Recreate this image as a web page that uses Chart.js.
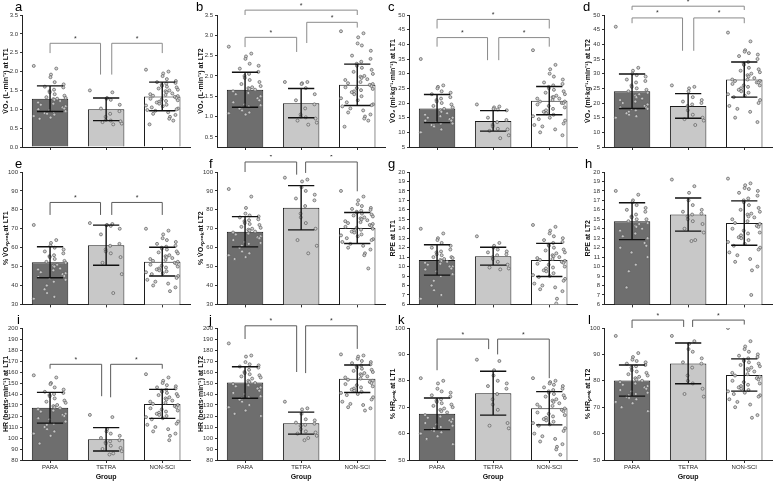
<!DOCTYPE html>
<html>
<head>
<meta charset="utf-8">
<script src="https://cdn.jsdelivr.net/npm/chart.js@4.4.1/dist/chart.umd.min.js"></script>
<style>
  body { margin: 0; background: #fff; overflow: hidden; }
  #wrap { position: relative; width: 776px; height: 481px; overflow: hidden; }
  canvas { position: absolute; }
</style>
</head>
<body>
<div id="wrap"></div>
<script>
const groups = ['PARA', 'TETRA', 'NON-SCI'];

// a: VO2 (L/min) at LT1
const aMean = [1.28, 1.00, 1.34];
const aSd = [0.34, 0.30, 0.38];
const aPara = [2.15, 2.08, 1.92, 1.85, 1.72, 1.66, 1.6, 1.58, 1.52, 1.48, 1.45, 1.4, 1.36, 1.32, 1.3, 1.28, 1.27, 1.25, 1.22, 1.18, 1.15, 1.12, 1.08, 1.05, 1.02, 1.0, 0.98, 0.95, 0.93, 0.92, 0.9, 0.88, 0.86, 0.82, 0.78, 0.75];
const aTetra = [1.5, 1.45, 1.3, 1.28, 1.25, 1.12, 1.02, 0.95, 0.88, 0.8, 0.72, 0.7, 0.68, 0.66, 0.62, 0.6];
const aNon = [2.05, 2.0, 1.95, 1.88, 1.8, 1.75, 1.72, 1.7, 1.68, 1.65, 1.62, 1.6, 1.58, 1.55, 1.52, 1.5, 1.48, 1.45, 1.42, 1.4, 1.38, 1.36, 1.35, 1.33, 1.3, 1.28, 1.26, 1.24, 1.22, 1.2, 1.18, 1.15, 1.12, 1.1, 1.08, 1.05, 1.02, 1.0, 0.98, 0.96, 0.92, 0.88, 0.85, 0.8, 0.75, 0.7, 0.6];

// b: VO2 (L/min) at LT2
const bMean = [1.66, 1.33, 1.78];
const bSd = [0.43, 0.36, 0.51];
const bPara = [2.72, 2.55, 2.48, 2.42, 2.3, 2.25, 2.18, 2.1, 2.05, 2.0, 1.95, 1.9, 1.85, 1.8, 1.75, 1.72, 1.7, 1.68, 1.66, 1.62, 1.58, 1.55, 1.5, 1.45, 1.4, 1.35, 1.3, 1.28, 1.25, 1.22, 1.2, 1.15, 1.1, 1.08, 1.05];
const bTetra = [1.85, 1.85, 1.82, 1.8, 1.7, 1.55, 1.4, 1.3, 1.2, 1.05, 1.0, 0.98, 0.95, 0.9, 0.85, 0.8];
const bNon = [3.1, 3.05, 2.95, 2.8, 2.75, 2.62, 2.5, 2.42, 2.35, 2.3, 2.25, 2.2, 2.15, 2.1, 2.05, 2.0, 1.98, 1.95, 1.92, 1.9, 1.85, 1.82, 1.8, 1.78, 1.75, 1.72, 1.7, 1.68, 1.65, 1.62, 1.6, 1.55, 1.5, 1.45, 1.4, 1.35, 1.3, 1.28, 1.25, 1.2, 1.15, 1.1, 1.05, 1.0, 0.95, 0.9, 0.75];

// c: VO2 (ml/kg/min) at LT1
const cMean = [18.1, 13.9, 20.8];
const cSd = [4.8, 3.5, 4.8];
const cPara = [35, 26, 25.5, 25, 24, 23.5, 23, 22, 21.5, 21, 20.5, 20, 19.5, 19, 18.5, 18, 17.5, 17, 16.5, 16, 15.5, 15, 15, 14.5, 14, 14, 13.5, 13, 13, 12.5, 12.5, 12, 11, 10];
const cTetra = [19.5, 18.8, 18.5, 18, 17.8, 17.5, 15, 14.2, 13.5, 12.5, 12, 11.2, 11, 10.5, 9, 8];
const cNon = [38, 33, 31.5, 30, 29, 28, 27, 26.5, 26, 25.5, 25, 24.5, 24, 23.5, 23, 22.5, 22, 22, 21.5, 21.5, 21, 20.5, 20.5, 20, 20, 19.5, 19, 18.5, 18, 17.5, 17, 16.5, 16, 15.5, 15, 14.5, 14, 13, 12.5, 12, 11, 10, 9];

// d: VO2 (ml/kg/min) at LT2
const dMean = [24.0, 19.0, 28.0];
const dSd = [5.9, 4.2, 6.0];
const dPara = [46, 32, 31, 30, 29.5, 29, 28, 27.5, 27, 26, 25.5, 25, 24.5, 24, 23.5, 23, 22.5, 22, 21.5, 21, 20.5, 20, 19.5, 19, 18.5, 18.5, 18, 18, 17.5, 17, 16.5, 16, 15.5, 15];
const dTetra = [26, 25.5, 25, 24, 22, 21, 20.5, 20, 19.5, 19, 17.5, 16, 15, 14.5, 14, 12.5];
const dNon = [44, 41, 38, 37.5, 37, 36.5, 36, 35, 34, 33.5, 33, 32, 31.5, 31, 30.5, 30, 29.5, 29, 28.5, 28, 28, 27.5, 27.5, 27, 27, 26.5, 26, 26, 25.5, 25, 24.5, 24, 23.5, 23, 22.5, 22, 21, 20, 19, 18, 17, 15, 13.5];

// e: %VO2peak at LT1
const eMean = [52.3, 61.3, 52.6];
const eSd = [8.2, 10.6, 7.6];
const ePara = [72, 64, 62.5, 61, 60, 59, 58, 57, 56, 55.5, 55, 54, 53, 52.5, 52, 51, 50.5, 50, 49, 48.5, 48, 47, 46.5, 46, 45, 44.5, 44, 43, 42, 40, 38, 36, 34, 33];
const eTetra = [73, 72.5, 72, 71.8, 71.5, 70, 67, 62, 61, 59, 58, 57, 55, 52, 46, 36];
const eNon = [70, 69, 67, 65, 64, 63, 62, 61, 60.5, 60, 59.5, 59, 58, 57.5, 57, 56, 55.5, 55, 54.5, 54, 53.5, 53, 52.5, 52, 51.5, 51, 50.5, 50, 49.5, 49, 48.5, 48, 47.5, 47, 46.5, 46, 45, 44, 43, 42, 41, 40, 39, 37];

// f: %VO2peak at LT2
const fMean = [68.4, 81.1, 70.4];
const fSd = [8.0, 11.7, 8.2];
const fPara = [91, 87, 81, 78, 77, 76.5, 76, 75, 74.5, 74, 73, 72.5, 72, 71, 70.5, 70, 69.5, 69, 68.5, 68, 67.5, 67, 66, 65.5, 65, 64, 63, 62.5, 62, 61, 60, 58, 57, 56, 55, 54];
const fTetra = [97, 96, 95, 92, 90, 88, 86, 85, 82, 78, 76, 73, 70, 64, 61, 57];
const fNon = [90, 87, 85, 83, 82, 81, 80.5, 80, 79.5, 79, 78.5, 78, 77.5, 77, 76.5, 76, 75.5, 75, 74.5, 74, 73.5, 73, 72.5, 72, 71.5, 71, 70.5, 70, 69.5, 69, 68.5, 68, 67, 66.5, 66, 65, 64.5, 64, 63, 62, 61, 60, 59, 57, 56, 49];

// g: RPE at LT1
const gMean = [10.7, 11.1, 10.7];
const gSd = [1.6, 0.95, 1.75];
const gPara = [14, 13.5, 13, 12.8, 12.5, 12.2, 12, 11.8, 11.6, 11.5, 11.3, 11.2, 11, 11, 10.9, 10.8, 10.7, 10.6, 10.5, 10.4, 10.3, 10.2, 10, 10, 9.8, 9.7, 9.5, 9.2, 9, 8.5, 8, 7.5, 7, 6.6];
const gTetra = [13.2, 12.5, 12.2, 12, 11.8, 11.6, 11.5, 11.3, 11.2, 11, 10.8, 10.5, 10.2, 9.9, 9.8, 9.7];
const gNon = [14.4, 14.2, 13.8, 13.5, 13.2, 13, 12.8, 12.6, 12.5, 12.3, 12.2, 12, 11.8, 11.7, 11.5, 11.4, 11.2, 11.1, 11, 10.9, 10.8, 10.7, 10.6, 10.5, 10.4, 10.3, 10.2, 10, 9.9, 9.8, 9.6, 9.5, 9.3, 9.1, 9, 8.9, 8.7, 8.5, 8.2, 8, 7.8, 7.6, 7.4, 6.6, 6.1];

// h: RPE at LT2
const hMean = [14.8, 15.5, 14.6];
const hSd = [1.95, 1.75, 2.35];
const hPara = [18, 17.6, 17, 16.8, 16.5, 16.2, 16, 15.8, 15.5, 15.3, 15.2, 15, 15, 14.8, 14.6, 14.5, 14.3, 14.2, 14, 13.8, 13.5, 13.2, 13, 12.5, 12.2, 12, 11.5, 11, 10.2, 9.5, 7.8];
const hTetra = [19.2, 18.5, 17.8, 17, 16.5, 16, 15.8, 15.6, 15.5, 15.3, 15, 14.8, 14.5, 14, 13.6, 12.8, 12.7];
const hNon = [19.3, 18.8, 18.6, 18.3, 18.2, 18, 17.8, 17.5, 17.2, 17, 16.8, 16.5, 16.2, 16, 15.8, 15.6, 15.5, 15.3, 15.2, 15, 14.8, 14.6, 14.5, 14.3, 14.2, 14, 13.8, 13.6, 13.5, 13.3, 13.1, 13, 12.8, 12.6, 12.4, 12.2, 12, 11.8, 11.5, 11.2, 10.8, 10.5, 10, 9.6, 7];

// i: HR at LT1
const iMean = [127.5, 98.8, 131.0];
const iSd = [14, 10.6, 13.2];
const iPara = [157, 155, 150, 149, 146, 144, 142, 141, 140, 139, 138, 136, 134, 133, 132, 130, 129, 128, 127, 126, 125, 124, 122, 121, 120, 118, 117, 115, 113, 112, 110, 108, 106, 104, 102, 95];
const iTetra = [121, 119, 108, 106, 104, 102, 100, 98, 97, 96, 95, 93, 91, 90, 88, 86, 85];
const iNon = [158, 155, 152, 150, 148, 147, 146, 145, 144, 143, 142, 141, 140, 139, 138, 137, 136, 135, 134, 133, 132, 131, 130, 129, 128, 127, 126, 125, 124, 123, 122, 121, 120, 119, 118, 117, 115, 113, 112, 110, 108, 106, 104, 102, 98];

// j: HR at LT2
const jMean = [150.5, 113.5, 153.8];
const jSd = [14.3, 10.0, 12.5];
const jPara = [186, 175, 174, 169, 167, 166, 165, 164, 162, 160, 159, 158, 157, 156, 155, 154, 152, 151, 150, 149, 148, 147, 146, 145, 143, 141, 140, 138, 137, 136, 135, 133, 130, 128, 125, 122, 120];
const jTetra = [133, 127, 126, 122, 117, 116, 114, 113, 112, 111, 108, 106, 105, 104, 102, 100, 98];
const jNon = [176, 175, 174, 172, 170, 169, 168, 167, 166, 165, 164, 163, 162, 161, 160, 159, 158, 157, 156, 155, 154, 153, 152, 151, 150, 149, 148, 147, 146, 145, 144, 143, 142, 141, 140, 139, 137, 135, 133, 131, 130, 128, 127, 125];

// k: %HRpeak at LT1
const kMean = [67.5, 75.3, 69.6];
const kSd = [6.0, 8.3, 6.3];
const kPara = [81, 80, 79, 77, 76, 75.5, 74.5, 74, 73, 72.5, 72, 71.5, 71, 70.5, 70, 69.5, 69, 68.5, 68, 67, 66.5, 66, 65.5, 65, 64.5, 64, 63.5, 63, 62.5, 62, 61.5, 61, 60.5, 60, 59, 58, 56];
const kTetra = [88, 87.5, 84, 82, 80, 79, 78, 77, 75, 73, 71, 69, 64, 63, 62];
const kNon = [81, 80, 79.5, 79, 78.5, 78, 77.5, 77, 76.5, 76, 75.5, 75, 74.5, 74, 73.5, 73, 72.5, 72, 71.5, 71, 70.5, 70, 69.5, 69, 68.5, 68, 67.5, 67, 66.5, 66, 65.5, 65, 64.5, 64, 63.5, 63, 62, 61, 60, 59, 58, 57, 56, 55, 54, 52];

// l: %HRpeak at LT2
const lMean = [80.1, 86.6, 82.2];
const lSd = [5.9, 7.7, 6.1];
const lPara = [97, 90.5, 89, 88, 87.5, 87, 86.5, 86, 85.5, 85, 84, 83.5, 83, 82.5, 82, 81.5, 81, 80.5, 80, 79.5, 79, 78.5, 78, 77.5, 77, 76.5, 76, 75.5, 75, 74.5, 74, 73.5, 73, 72, 71.5, 70, 68.5];
const lTetra = [97, 95, 94, 92, 91, 88.5, 87, 86.5, 85, 82, 80, 79, 77, 75, 74];
const lNon = [100, 95, 93, 92, 91, 90, 89.5, 89, 88.5, 88, 87.5, 87, 86.5, 86, 85.5, 85, 84.5, 84, 83.5, 83, 82.5, 82, 81.5, 81, 80.5, 80, 79.5, 79, 78.5, 78, 77.5, 77, 76.5, 76, 75.5, 75, 74.5, 74, 73, 72, 71, 70, 67, 66];

// significance brackets: [fromX, toX, top, leftLegEnd, rightLegEnd]
const aBr = [[0, 0.9, 2.75, 2.49, 1.92], [1.1, 2, 2.75, 1.92, 2.49]];
const bBr = [[0, 0.92, 2.95, 2.71, 2.59], [1.1, 2, 3.32, 2.81, 3.19], [0, 2, 3.62, 3.5, 3.5]];
const cBr = [[0, 0.9, 42.3, 39.2, 34.6], [1.1, 2, 42.3, 34.6, 39.2], [0, 2, 48.5, 45.4, 45.4]];
const dBr = [[0, 0.9, 49, 47.2, 37.8], [1.1, 2, 49, 37.8, 47.2], [0, 2, 53, 51.7, 51.7]];
const eBr = [[0, 0.9, 83.9, 77.3, 77.3], [1.1, 2, 83.9, 77.3, 77.3]];
const fBr = [[0, 0.92, 105.3, 100, 98.6], [1.08, 2, 105.3, 99.5, 89.8]];
const iBr = [[0, 0.92, 167, 163, 138], [1.08, 2, 167, 137, 163]];
const jBr = [[0, 0.92, 202, 190, 160], [1.08, 2, 202, 159, 181]];
const kBr = [[0, 0.92, 95.8, 84, 92], [1.08, 2, 95.8, 90, 81]];
const lBr = [[0, 0.92, 103, 100, 100.4], [1.08, 2, 103, 100.4, 101.3]];

const VO2 = 'V\u0307O\u2082';
const PEAK = '\u209A\u2091\u2090\u2096';

const panels = [
  { k: 'a', row: 0, axisX: 22, lx: 15, title: VO2 + ' (L\u00B7min\u207B\u00B9) at LT1', min: 0, max: 3.5, first: 0, step: 0.5, dec: 1, mean: aMean, sd: aSd, pts: [aPara, aTetra, aNon], br: aBr },
  { k: 'b', row: 0, axisX: 217, lx: 196, title: VO2 + ' (L\u00B7min\u207B\u00B9) at LT2', min: 0.25, max: 3.5, first: 0.5, step: 0.5, dec: 1, mean: bMean, sd: bSd, pts: [bPara, bTetra, bNon], br: bBr },
  { k: 'c', row: 0, axisX: 409, lx: 388, title: VO2 + ' (ml\u00B7kg\u207B\u00B9\u00B7min\u207B\u00B9) at LT1', min: 5, max: 50, first: 5, step: 5, dec: 0, mean: cMean, sd: cSd, pts: [cPara, cTetra, cNon], br: cBr },
  { k: 'd', row: 0, axisX: 604, lx: 583, title: VO2 + ' (ml\u00B7kg\u207B\u00B9\u00B7min\u207B\u00B9) at LT2', min: 5, max: 50, first: 5, step: 5, dec: 0, mean: dMean, sd: dSd, pts: [dPara, dTetra, dNon], br: dBr },
  { k: 'e', row: 1, axisX: 22, lx: 15, title: '% ' + VO2 + PEAK + ' at LT1', min: 30, max: 100, first: 30, step: 10, dec: 0, mean: eMean, sd: eSd, pts: [ePara, eTetra, eNon], br: eBr },
  { k: 'f', row: 1, axisX: 217, lx: 209, title: '% ' + VO2 + PEAK + ' at LT2', min: 30, max: 100, first: 30, step: 10, dec: 0, mean: fMean, sd: fSd, pts: [fPara, fTetra, fNon], br: fBr },
  { k: 'g', row: 1, axisX: 409, lx: 388, title: 'RPE at LT1', min: 6, max: 20, first: 6, step: 1, dec: 0, mean: gMean, sd: gSd, pts: [gPara, gTetra, gNon], br: [] },
  { k: 'h', row: 1, axisX: 604, lx: 585, title: 'RPE at LT2', min: 6, max: 20, first: 6, step: 1, dec: 0, mean: hMean, sd: hSd, pts: [hPara, hTetra, hNon], br: [] },
  { k: 'i', row: 2, axisX: 22, lx: 17, title: 'HR (beats\u00B7min\u207B\u00B9) at LT1', min: 80, max: 200, first: 80, step: 10, dec: 0, mean: iMean, sd: iSd, pts: [iPara, iTetra, iNon], br: iBr },
  { k: 'j', row: 2, axisX: 217, lx: 209, title: 'HR (beats\u00B7min\u207B\u00B9) at LT2', min: 80, max: 200, first: 80, step: 10, dec: 0, mean: jMean, sd: jSd, pts: [jPara, jTetra, jNon], br: jBr },
  { k: 'k', row: 2, axisX: 409, lx: 398, title: '% HR' + PEAK + ' at LT1', min: 50, max: 100, first: 50, step: 10, dec: 0, mean: kMean, sd: kSd, pts: [kPara, kTetra, kNon], br: kBr },
  { k: 'l', row: 2, axisX: 604, lx: 588, title: '% HR' + PEAK + ' at LT2', min: 50, max: 100, first: 50, step: 10, dec: 0, mean: lMean, sd: lSd, pts: [lPara, lTetra, lNon], br: lBr }
];

const rows = [
  { top: 0, h: 155, plotTop: 15, plotBottom: 147 },
  { top: 155, h: 155, plotTop: 17, plotBottom: 150 },
  { top: 310, h: 171, plotTop: 18, plotBottom: 150 }
];

const FONT = "'Liberation Sans', Arial, sans-serif";
const barColors = ['#6e6e6e', '#c8c8c8', '#ffffff'];
const AXIS_W = 22, PLOT_W = 171, CANVAS_W = 195;

// horizontal spread of the dots inside a bar
function jitter(i) {
  const f = (i * 0.618034 + i * i * 0.0731) % 1;
  return (f - 0.5) * 0.58;
}

const extras = {
  id: 'extras',
  afterDatasetsDraw(chart, args, opts) {
    const ctx = chart.ctx;
    const y = chart.scales.y, x = chart.scales.x;
    const p = opts.panel;
    ctx.save();
    // error bars (mean ± SD)
    const meta = chart.getDatasetMeta(0);
    ctx.strokeStyle = '#111';
    ctx.lineWidth = 1.4;
    meta.data.forEach((bar, i) => {
      const yt = y.getPixelForValue(p.mean[i] + p.sd[i]);
      const yb = y.getPixelForValue(p.mean[i] - p.sd[i]);
      const hw = bar.width * 0.36;
      ctx.beginPath();
      ctx.moveTo(bar.x, yt); ctx.lineTo(bar.x, yb);
      ctx.moveTo(bar.x - hw, yt); ctx.lineTo(bar.x + hw, yt);
      ctx.moveTo(bar.x - hw, yb); ctx.lineTo(bar.x + hw, yb);
      ctx.stroke();
    });
    // brackets
    ctx.strokeStyle = p.row === 0 ? '#8a8a8a' : '#5a5a5a';
    ctx.lineWidth = 1;
    ctx.fillStyle = '#333';
    ctx.font = '7px ' + FONT;
    ctx.textAlign = 'center';
    ctx.textBaseline = 'bottom';
    p.br.forEach(b => {
      const x1 = x.getPixelForValue(b[0]), x2 = x.getPixelForValue(b[1]);
      const yt = y.getPixelForValue(b[2]);
      ctx.beginPath();
      ctx.moveTo(x1, y.getPixelForValue(b[3]));
      ctx.lineTo(x1, yt);
      ctx.lineTo(x2, yt);
      ctx.lineTo(x2, y.getPixelForValue(b[4]));
      ctx.stroke();
      ctx.fillText('*', (x1 + x2) / 2, yt - 1);
    });
    // panel letter
    ctx.fillStyle = '#000';
    ctx.font = '13px ' + FONT;
    ctx.textAlign = 'left';
    ctx.textBaseline = 'alphabetic';
    ctx.fillText(p.k, p.lx - (p.axisX - AXIS_W), chart.chartArea.top - 4);
    ctx.restore();
  }
};

const wrap = document.getElementById('wrap');

panels.forEach(p => {
  const r = rows[p.row];
  const cv = document.createElement('canvas');
  cv.width = CANVAS_W;
  cv.height = r.h;
  cv.style.left = (p.axisX - AXIS_W) + 'px';
  cv.style.top = r.top + 'px';
  wrap.appendChild(cv);

  const dots = [];
  p.pts.forEach((list, g) => {
    list.forEach((v, i) => dots.push({ x: g + jitter(i), y: v }));
  });

  const tickVals = [];
  for (let v = p.first; v <= p.max + 1e-9; v += p.step) tickVals.push(Math.round(v * 100) / 100);

  const bottomRow = p.row === 2;

  new Chart(cv, {
    type: 'bar',
    data: {
      datasets: [
        {
          type: 'bar',
          data: p.mean.map((m, i) => ({ x: i, y: m })),
          backgroundColor: barColors,
          borderColor: '#1a1a1a',
          borderWidth: 1,
          barPercentage: 0.65,
          categoryPercentage: 1,
          grouped: false,
          order: 2
        },
        {
          type: 'scatter',
          data: dots,
          pointRadius: 1.5,
          pointBackgroundColor: 'rgba(205,205,205,0.9)',
          pointBorderColor: '#5c5c5c',
          pointBorderWidth: 0.7,
          order: 1
        }
      ]
    },
    options: {
      responsive: false,
      animation: false,
      events: [],
      devicePixelRatio: 1,
      layout: { padding: { left: 0, right: CANVAS_W - AXIS_W - PLOT_W, top: r.plotTop, bottom: 0 } },
      plugins: { legend: { display: false }, tooltip: { enabled: false }, extras: { panel: p } },
      scales: {
        x: {
          type: 'linear',
          min: -0.5,
          max: 2.5,
          offset: false,
          grid: { offset: false, drawOnChartArea: false, drawTicks: true, tickLength: 3, color: '#333' },
          border: { display: true, color: '#222', width: 1 },
          afterBuildTicks(s) { s.ticks = [0, 1, 2].map(v => ({ value: v })); },
          ticks: {
            display: bottomRow, autoSkip: false, maxRotation: 0, padding: 1,
            font: { family: FONT, size: 6 }, color: '#222',
            callback: v => groups[v] || ''
          },
          title: { display: bottomRow, text: 'Group', padding: 0, font: { family: FONT, size: 7, weight: 'bold' }, color: '#111' },
          afterFit(s) { s.height = r.h - r.plotBottom; }
        },
        y: {
          type: 'linear',
          min: p.min,
          max: p.max,
          grid: { drawOnChartArea: false, drawTicks: true, tickLength: 2, color: '#333' },
          border: { display: true, color: '#222', width: 1 },
          afterBuildTicks(s) { s.ticks = tickVals.map(v => ({ value: v })); },
          ticks: {
            autoSkip: false,
            padding: 2,
            font: { family: FONT, size: 6 },
            color: '#333',
            callback: v => Number(v).toFixed(p.dec)
          },
          title: { display: true, text: p.title, padding: { top: 2, bottom: 0 }, font: { family: FONT, size: 7, weight: 'bold' }, color: '#111' },
          afterFit(s) { s.width = AXIS_W; }
        }
      }
    },
    plugins: [extras]
  });
});
</script>
</body>
</html>
